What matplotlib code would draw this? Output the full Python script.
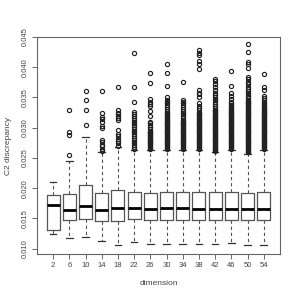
import matplotlib
matplotlib.use("Agg")
import matplotlib.pyplot as plt

# dimension groups and box stats
dims = [2, 6, 10, 14, 18, 22, 26, 30, 34, 38, 42, 46, 50, 54]
whislo = [0.01244, 0.01173, 0.01190, 0.01129, 0.01058, 0.01112, 0.01084,
          0.01075, 0.01079, 0.01079, 0.01079, 0.01089, 0.01058, 0.01058]
q1 = [0.01310, 0.01475, 0.01492, 0.01454, 0.01464, 0.01492, 0.01475,
      0.01470, 0.01475, 0.01475, 0.01475, 0.01475, 0.01475, 0.01475]
med = [0.01723, 0.01640, 0.01711, 0.01640, 0.01673, 0.01673, 0.01657,
       0.01668, 0.01678, 0.01662, 0.01662, 0.01662, 0.01657, 0.01662]
q3 = [0.01883, 0.01899, 0.02048, 0.01921, 0.01965, 0.01937, 0.01924,
      0.01931, 0.01931, 0.01931, 0.01931, 0.01931, 0.01920, 0.01931]
whishi = [0.02107, 0.02444, 0.02853, 0.02597, 0.02685, 0.02625, 0.02630,
          0.02630, 0.02630, 0.02630, 0.02590, 0.02630, 0.02564, 0.02630]

# outliers (dense columns listed point by point)
fl_2 = []
fl_6 = [0.0254, 0.0288, 0.0292, 0.0330]
fl_10 = [0.0304, 0.0330, 0.0346, 0.0360]
fl_14 = [0.0262, 0.0265, 0.0269, 0.0272, 0.0276, 0.0280, 0.0299, 0.0303,
         0.0310, 0.0314, 0.0318, 0.0324, 0.0361]
fl_18 = [0.0270, 0.0274, 0.0278, 0.0282, 0.0286, 0.0290, 0.0296, 0.0313,
         0.0316, 0.0319, 0.0322, 0.0325, 0.0329, 0.0367]
fl_22 = [0.0265, 0.0268, 0.0271, 0.0274, 0.0277, 0.0280, 0.0283, 0.0286,
         0.0289, 0.0292, 0.0295, 0.0298, 0.0301, 0.0304, 0.0307, 0.0310,
         0.0313, 0.0316, 0.0319, 0.0322, 0.0326, 0.0343, 0.0367, 0.0423]
fl_26 = [0.0265, 0.0268, 0.0271, 0.0274, 0.0277, 0.0280, 0.0283, 0.0286,
         0.0289, 0.0292, 0.0295, 0.0298, 0.0301, 0.0304, 0.0307, 0.0310,
         0.0320, 0.0328, 0.0335, 0.0339, 0.0343, 0.0347, 0.0373, 0.0391,
         0.02665, 0.02695, 0.02725, 0.02755, 0.02785, 0.02815, 0.02845,
         0.02875, 0.02905, 0.02935]
fl_30 = [0.0265, 0.0268, 0.0271, 0.0274, 0.0277, 0.0280, 0.0283, 0.0286,
         0.0289, 0.0292, 0.0295, 0.0298, 0.0301, 0.0304, 0.0307, 0.0310,
         0.0313, 0.0316, 0.0319, 0.0322, 0.0325, 0.0328, 0.0331, 0.0334,
         0.0337, 0.0340, 0.0343, 0.0346, 0.0350, 0.0369, 0.0391, 0.0406,
         0.02665, 0.02695, 0.02725, 0.02755, 0.02785, 0.02815, 0.02845,
         0.02875, 0.02905, 0.02935, 0.02965, 0.02995, 0.03025, 0.03055,
         0.03085, 0.03115, 0.03145, 0.03175, 0.03205, 0.03235]
fl_34 = [0.0265, 0.0268, 0.0271, 0.0274, 0.0277, 0.0280, 0.0283, 0.0286,
         0.0289, 0.0292, 0.0295, 0.0298, 0.0301, 0.0304, 0.0307, 0.0310,
         0.0313, 0.0316, 0.0319, 0.0322, 0.0325, 0.0328, 0.0331, 0.0334,
         0.0337, 0.0340, 0.0343, 0.0346, 0.0376,
         0.02665, 0.02695, 0.02725, 0.02755, 0.02785, 0.02815, 0.02845,
         0.02875, 0.02905, 0.02935, 0.02965, 0.02995, 0.03025, 0.03055,
         0.03085, 0.03115]
fl_38 = [0.0265, 0.0268, 0.0271, 0.0274, 0.0277, 0.0280, 0.0283, 0.0286,
         0.0289, 0.0292, 0.0295, 0.0298, 0.0301, 0.0304, 0.0307, 0.0310,
         0.0313, 0.0316, 0.0319, 0.0322, 0.0325, 0.0329, 0.0332, 0.0336,
         0.0340, 0.0351, 0.0355, 0.0358, 0.0362, 0.0397, 0.0406, 0.0410,
         0.0420, 0.0424, 0.0428,
         0.02665, 0.02695, 0.02725, 0.02755, 0.02785, 0.02815, 0.02845,
         0.02875, 0.02905, 0.02935, 0.02965, 0.02995, 0.03025, 0.03055,
         0.03085, 0.03115, 0.03145, 0.03175, 0.03205, 0.03235]
fl_42 = [0.0261, 0.0264, 0.0267, 0.0270, 0.0273, 0.0276, 0.0279, 0.0282,
         0.0285, 0.0288, 0.0291, 0.0294, 0.0297, 0.0300, 0.0303, 0.0306,
         0.0309, 0.0312, 0.0315, 0.0318, 0.0321, 0.0324, 0.0327, 0.0330,
         0.0333, 0.0336, 0.0339, 0.0342, 0.0345, 0.0348, 0.0351, 0.0354,
         0.0358, 0.0362, 0.0367, 0.0372, 0.0377, 0.0380,
         0.02625, 0.02655, 0.02685, 0.02715, 0.02745, 0.02775, 0.02805,
         0.02835, 0.02865, 0.02895, 0.02925, 0.02955, 0.02985, 0.03015,
         0.03045, 0.03075, 0.03105, 0.03135, 0.03165, 0.03195, 0.03225,
         0.03255, 0.03285]
fl_46 = [0.0265, 0.0268, 0.0271, 0.0274, 0.0277, 0.0280, 0.0283, 0.0286,
         0.0289, 0.0292, 0.0295, 0.0298, 0.0301, 0.0304, 0.0307, 0.0310,
         0.0313, 0.0316, 0.0319, 0.0322, 0.0325, 0.0328, 0.0331, 0.0334,
         0.0337, 0.0340, 0.0343, 0.0347, 0.0352, 0.0357, 0.0369, 0.0393,
         0.02665, 0.02695, 0.02725, 0.02755, 0.02785, 0.02815, 0.02845,
         0.02875, 0.02905, 0.02935, 0.02965, 0.02995, 0.03025, 0.03055,
         0.03085, 0.03115, 0.03145, 0.03175, 0.03205, 0.03235, 0.03265,
         0.03295, 0.03325, 0.03355]
fl_50 = [0.0259, 0.0262, 0.0265, 0.0268, 0.0271, 0.0274, 0.0277, 0.0280,
         0.0283, 0.0286, 0.0289, 0.0292, 0.0295, 0.0298, 0.0301, 0.0304,
         0.0307, 0.0310, 0.0313, 0.0316, 0.0319, 0.0322, 0.0325, 0.0328,
         0.0331, 0.0334, 0.0337, 0.0340, 0.0343, 0.0346, 0.0349, 0.0352,
         0.0355, 0.0358, 0.0361, 0.0364, 0.0368, 0.0372, 0.0376, 0.0380,
         0.0384, 0.0398, 0.0406, 0.0408, 0.0425, 0.0439,
         0.02605, 0.02635, 0.02665, 0.02695, 0.02725, 0.02755, 0.02785,
         0.02815, 0.02845, 0.02875, 0.02905, 0.02935, 0.02965, 0.02995,
         0.03025, 0.03055, 0.03085, 0.03115, 0.03145, 0.03175, 0.03205,
         0.03235, 0.03265, 0.03295, 0.03325, 0.03355, 0.03385, 0.03415,
         0.03445]
fl_54 = [0.0265, 0.0268, 0.0271, 0.0274, 0.0277, 0.0280, 0.0283, 0.0286,
         0.0289, 0.0292, 0.0295, 0.0298, 0.0301, 0.0304, 0.0307, 0.0310,
         0.0313, 0.0316, 0.0319, 0.0322, 0.0325, 0.0328, 0.0331, 0.0334,
         0.0337, 0.0340, 0.0343, 0.0346, 0.0349, 0.0353, 0.0362, 0.0367,
         0.0388,
         0.02665, 0.02695, 0.02725, 0.02755, 0.02785, 0.02815, 0.02845,
         0.02875, 0.02905, 0.02935, 0.02965, 0.02995, 0.03025, 0.03055,
         0.03085, 0.03115, 0.03145, 0.03175, 0.03205, 0.03235, 0.03265,
         0.03295, 0.03325, 0.03355]
fliers = [fl_2, fl_6, fl_10, fl_14, fl_18, fl_22, fl_26, fl_30, fl_34,
          fl_38, fl_42, fl_46, fl_50, fl_54]

yticks = [0.010, 0.015, 0.020, 0.025, 0.030, 0.035, 0.040, 0.045]

plt.rcParams['font.family'] = ['Liberation Sans', 'DejaVu Sans']
txt = '#444444'
edge = '#555555'

stats = []
for i in range(len(dims)):
    stats.append(dict(label=str(dims[i]), whislo=whislo[i], q1=q1[i],
                      med=med[i], q3=q3[i], whishi=whishi[i],
                      fliers=fliers[i]))

fig = plt.figure(figsize=(3, 3), dpi=100)
ax = fig.add_axes([0.123, 0.153, 0.81, 0.724])

ax.bxp(stats, positions=range(1, len(dims) + 1), widths=0.8,
       boxprops=dict(color=edge, lw=0.9),
       medianprops=dict(color='black', lw=2),
       whiskerprops=dict(color=edge, lw=0.8, ls=(0, (3, 2.5))),
       capprops=dict(color='#333333', lw=0.9),
       flierprops=dict(marker='o', mfc='none', mec='#222222', ms=3.0,
                       mew=0.85, ls='none'))

ax.set_xlim(0, 15)
ax.set_ylim(0.0091, 0.045)
ax.set_yticks(yticks)
ax.set_yticklabels(['%.3f' % v for v in yticks], rotation=90, va='center')

for s in ax.spines.values():
    s.set_color('#666666')
    s.set_linewidth(0.8)
ax.tick_params(colors='#666666', labelcolor=txt, labelsize=5.5,
               length=3.5, width=0.7, pad=2.5)

ax.set_xlabel('dimension', fontsize=6, color=txt)
ax.set_ylabel('C2 discrepancy', fontsize=6, color=txt)
ax.xaxis.set_label_coords(0.5, -0.12)
ax.yaxis.set_label_coords(-0.103, 0.5)

fig.savefig('out.png', dpi=100)
